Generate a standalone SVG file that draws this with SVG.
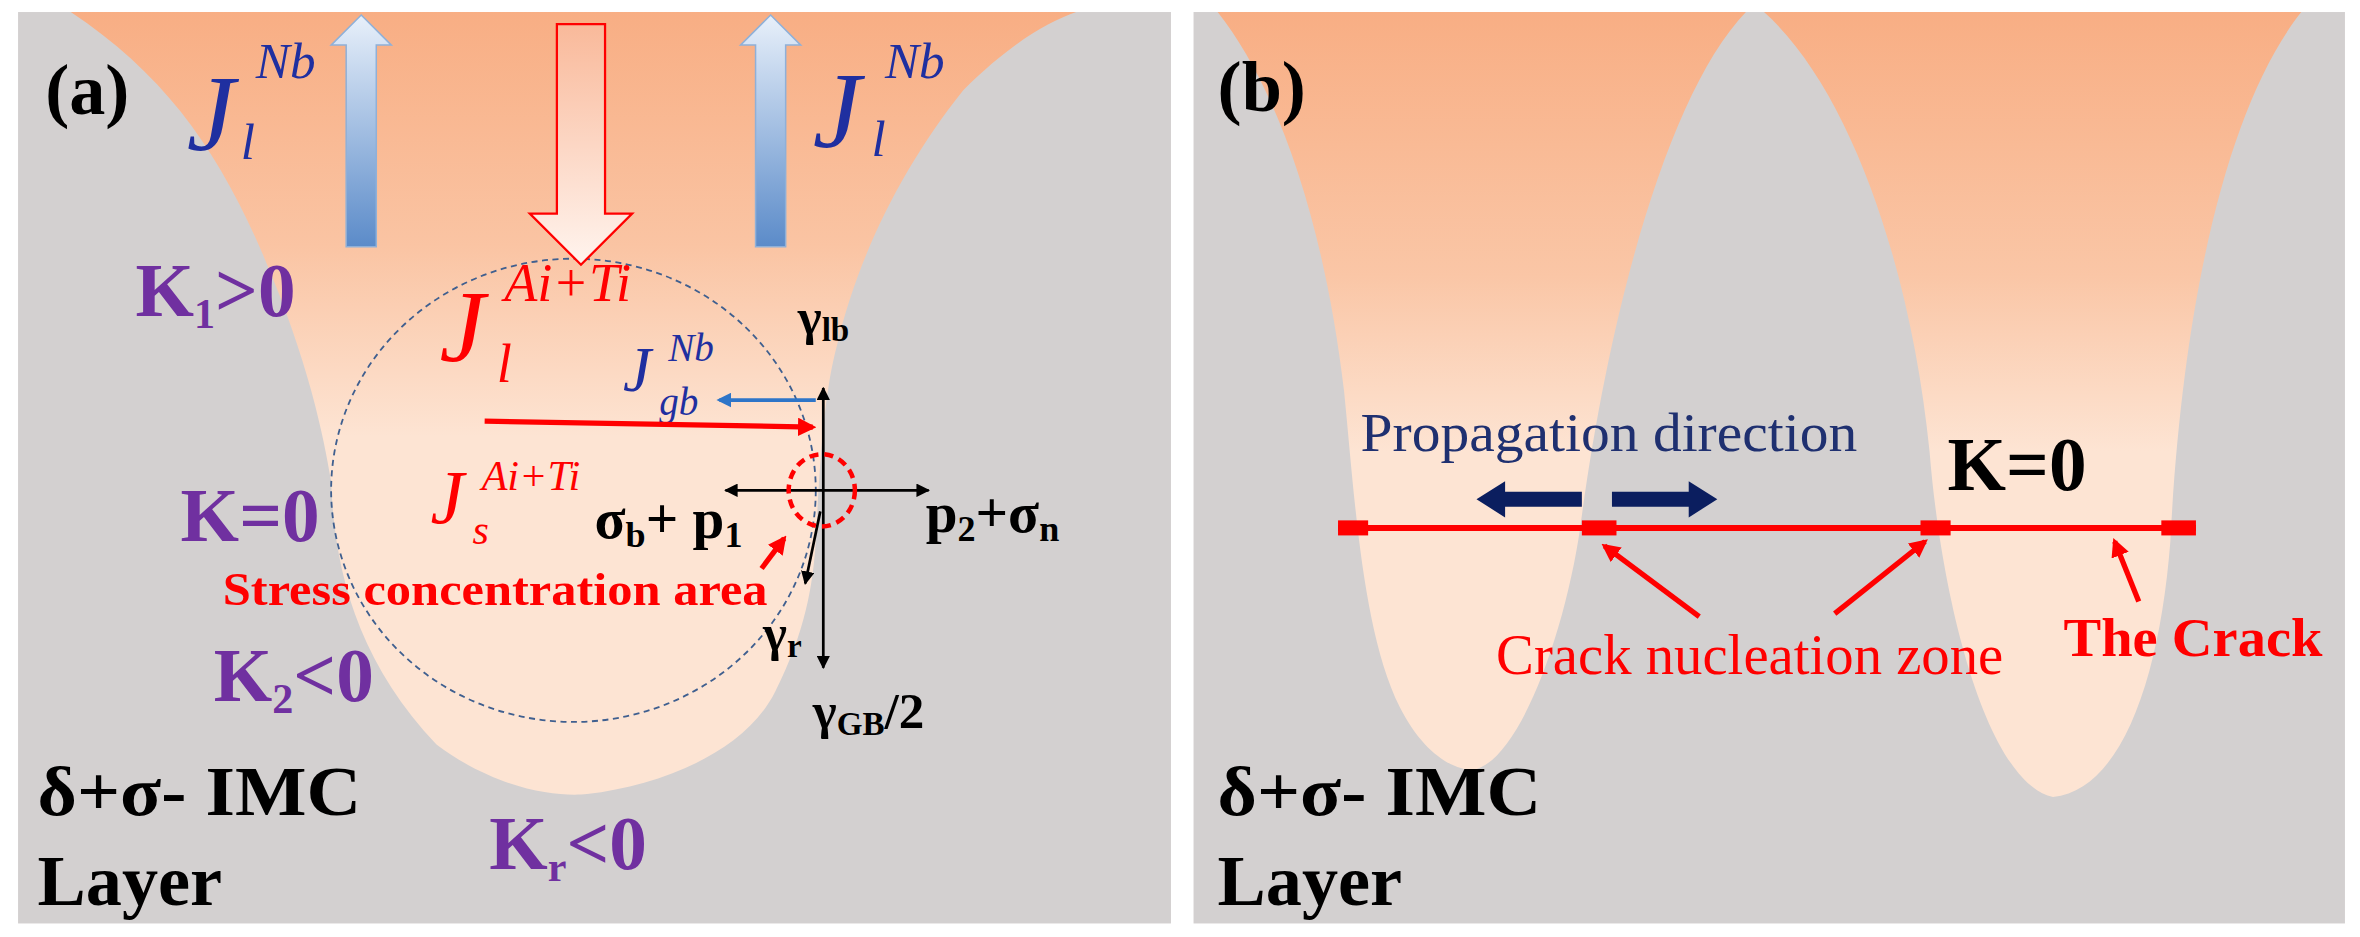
<svg xmlns="http://www.w3.org/2000/svg" width="2360" height="937" viewBox="0 0 2360 937">
<defs>
<linearGradient id="oga" x1="0" y1="8" x2="0" y2="290" gradientUnits="userSpaceOnUse"><stop offset="0" stop-color="#F8AE84"/><stop offset="0.55" stop-color="#FAC4A3"/><stop offset="1" stop-color="#FDE4D3"/></linearGradient>
<linearGradient id="ogb" x1="0" y1="8" x2="0" y2="300" gradientUnits="userSpaceOnUse"><stop offset="0" stop-color="#F8AE84"/><stop offset="0.6" stop-color="#FAC6A6"/><stop offset="1" stop-color="#FDE4D3"/></linearGradient>
<linearGradient id="bg" x1="0" y1="0" x2="0" y2="1"><stop offset="0" stop-color="#E8F0FA"/><stop offset="1" stop-color="#5B8BC9"/></linearGradient>
<linearGradient id="rg" x1="0" y1="0" x2="0" y2="1"><stop offset="0" stop-color="#F9B99A"/><stop offset="1" stop-color="#FFF4EE"/></linearGradient>
<marker id="ak" viewBox="0 0 10 10" refX="9" refY="5" markerWidth="5" markerHeight="5" orient="auto-start-reverse"><path d="M0,0 L10,5 L0,10 z" fill="#000"/></marker>
<marker id="ar" viewBox="0 0 10 10" refX="8" refY="5" markerWidth="3.5" markerHeight="3.5" orient="auto"><path d="M0,0 L10,5 L0,10 z" fill="#F00"/></marker>
<marker id="ab" viewBox="0 0 10 10" refX="8" refY="5" markerWidth="4" markerHeight="4" orient="auto"><path d="M0,0 L10,5 L0,10 z" fill="#2E75C8"/></marker>
</defs>
<style>
.s{font-family:"Liberation Serif",serif}
.b{font-weight:bold}
.i{font-style:italic}
.pu{fill:#7030A0;font-weight:bold}
.k{fill:#000;font-weight:bold}
</style>
<rect width="2360" height="937" fill="#fff"/>
<g transform="scale(1.5051 1.5040)">
<g id="panel-a">
<rect x="12" y="8" width="766" height="606" fill="#D3D0D0"/>
<path d="M47,8 C110,50 145,100 175,170 C205,240 215,290 220,320 C222,380 238,440 290,495 C330,525 370,530 390,528 C440,522 495,500 515,460 C535,420 540,390 542,360 C545,300 548,260 556,230 C570,170 600,110 640,60 C670,30 695,15 715,8 Z" fill="url(#oga)"/>
<ellipse cx="381" cy="326" rx="161" ry="154" fill="none" stroke="#3F5F8F" stroke-width="1.2" stroke-dasharray="4,3"/>
<path d="M230,164 L230,30 L220,30 L240,10 L260,30 L250,30 L250,164 Z" fill="url(#bg)" stroke="#8FB0D8" stroke-width="1"/>
<path d="M502,164 L502,30 L492,30 L512,10 L532,30 L522,30 L522,164 Z" fill="url(#bg)" stroke="#8FB0D8" stroke-width="1"/>
<path d="M370,16 L402,16 L402,142 L420,142 L386,176 L352,142 L370,142 Z" fill="url(#rg)" stroke="#F00" stroke-width="1.5"/>
<text class="s b" x="30" y="76" font-size="48">(a)</text>
<g fill="#1F2FA0" class="s i">
<text x="124" y="100" font-size="72">J</text><text x="170" y="52" font-size="34">Nb</text><text x="160" y="106" font-size="34">l</text>
<text x="540" y="98" font-size="72">J</text><text x="588" y="52" font-size="34">Nb</text><text x="579" y="104" font-size="34">l</text>
<text x="414" y="260" font-size="42">J</text><text x="444" y="240" font-size="26">Nb</text><text x="438" y="276" font-size="26">gb</text>
</g>
<g fill="#F00" class="s i">
<text x="292" y="240" font-size="68">J</text><text x="335" y="200" font-size="36">Ai+Ti</text><text x="330" y="254" font-size="36">l</text>
<text x="286" y="348" font-size="50">J</text><text x="320" y="326" font-size="28">Ai+Ti</text><text x="314" y="362" font-size="28">s</text>
</g>
<text class="s pu" x="90" y="210" font-size="50">K<tspan font-size="28" dy="8">1</tspan><tspan dy="-8">&gt;0</tspan></text>
<text class="s pu" x="120" y="360" font-size="50">K=0</text>
<text class="s pu" x="142" y="466" font-size="50">K<tspan font-size="28" dy="8">2</tspan><tspan dy="-8">&lt;0</tspan></text>
<text class="s pu" x="325" y="578" font-size="50">K<tspan font-size="28" dy="8">r</tspan><tspan dy="-8">&lt;0</tspan></text>
<text class="s k" x="25" y="542" font-size="46" textLength="215" lengthAdjust="spacingAndGlyphs">δ+σ- IMC</text>
<text class="s k" x="25" y="602" font-size="48">Layer</text>
<line x1="322" y1="280" x2="540" y2="284" stroke="#F00" stroke-width="3.5" marker-end="url(#ar)"/>
<line x1="542" y1="266" x2="478" y2="266" stroke="#2E75C8" stroke-width="2.5" marker-end="url(#ab)"/>
<line x1="547" y1="444" x2="547" y2="258" stroke="#000" stroke-width="1.8" marker-start="url(#ak)" marker-end="url(#ak)"/>
<line x1="482" y1="326" x2="617" y2="326" stroke="#000" stroke-width="1.8" marker-start="url(#ak)" marker-end="url(#ak)"/>
<line x1="545" y1="340" x2="535" y2="388" stroke="#000" stroke-width="1.8" marker-end="url(#ak)"/>
<ellipse cx="546" cy="326" rx="22" ry="24" fill="none" stroke="#F00" stroke-width="3" stroke-dasharray="6,4"/>
<line x1="506" y1="378" x2="521" y2="358" stroke="#F00" stroke-width="3.5" marker-end="url(#ar)"/>
<text class="s k" x="530" y="222" font-size="34">γ<tspan font-size="22" dy="5">lb</tspan></text>
<text class="s k" x="395" y="358" font-size="38">σ<tspan font-size="24" dy="6">b</tspan><tspan dy="-6">+ p</tspan><tspan font-size="24" dy="6">1</tspan></text>
<text class="s k" x="615" y="354" font-size="38">p<tspan font-size="24" dy="6">2</tspan><tspan dy="-6">+σ</tspan><tspan font-size="24" dy="6">n</tspan></text>
<text class="s k" x="507" y="432" font-size="34">γ<tspan font-size="22" dy="5">r</tspan></text>
<text class="s k" x="540" y="484" font-size="34">γ<tspan font-size="22" dy="5">GB</tspan><tspan dy="-5">/2</tspan></text>
<text class="s b" x="148" y="402" font-size="31" fill="#F00" textLength="362" lengthAdjust="spacingAndGlyphs">Stress concentration area</text>
</g>
<g id="panel-b">
<rect x="793" y="8" width="765" height="606" fill="#D3D0D0"/>
<path d="M809,8 C850,60 880,150 893,260 C900,330 905,420 930,470 C945,500 965,512 979,512 C1010,505 1040,420 1050,350 C1070,200 1110,60 1160,8 Z" fill="url(#ogb)"/>
<path d="M1172,8 C1230,60 1270,180 1282,300 C1290,400 1320,520 1364,530 C1410,525 1435,450 1442,360 C1450,200 1480,70 1529,8 Z" fill="url(#ogb)"/>
<text class="s b" x="809" y="74" font-size="48">(b)</text>
<text class="s" x="904" y="300" font-size="36" fill="#1F3070" textLength="330" lengthAdjust="spacingAndGlyphs">Propagation direction</text>
<text class="s k" x="1294" y="326" font-size="50">K=0</text>
<path d="M1051,327 L1000,327 L1000,320 L981,332 L1000,344 L1000,337 L1051,337 Z" fill="#0B1E5F"/>
<path d="M1071,327 L1122,327 L1122,320 L1141,332 L1122,344 L1122,337 L1071,337 Z" fill="#0B1E5F"/>
<line x1="889" y1="351" x2="1459" y2="351" stroke="#F00" stroke-width="4"/>
<g fill="#F00"><rect x="889" y="346" width="20" height="10"/><rect x="1051" y="346" width="23" height="10"/><rect x="1276" y="346" width="20" height="10"/><rect x="1436" y="346" width="23" height="10"/></g>
<line x1="1129" y1="410" x2="1066" y2="363" stroke="#F00" stroke-width="3.5" marker-end="url(#ar)"/>
<line x1="1219" y1="408" x2="1279" y2="360" stroke="#F00" stroke-width="3.5" marker-end="url(#ar)"/>
<line x1="1421" y1="400" x2="1405" y2="360" stroke="#F00" stroke-width="3.5" marker-end="url(#ar)"/>
<text class="s" x="994" y="448" font-size="38" fill="#F00" textLength="337" lengthAdjust="spacingAndGlyphs">Crack nucleation zone</text>
<text class="s b" x="1371" y="436" font-size="36" fill="#F00" textLength="172" lengthAdjust="spacingAndGlyphs">The Crack</text>
<text class="s k" x="809" y="542" font-size="46" textLength="215" lengthAdjust="spacingAndGlyphs">δ+σ- IMC</text>
<text class="s k" x="809" y="602" font-size="48">Layer</text>
</g>
</g>
</svg>
